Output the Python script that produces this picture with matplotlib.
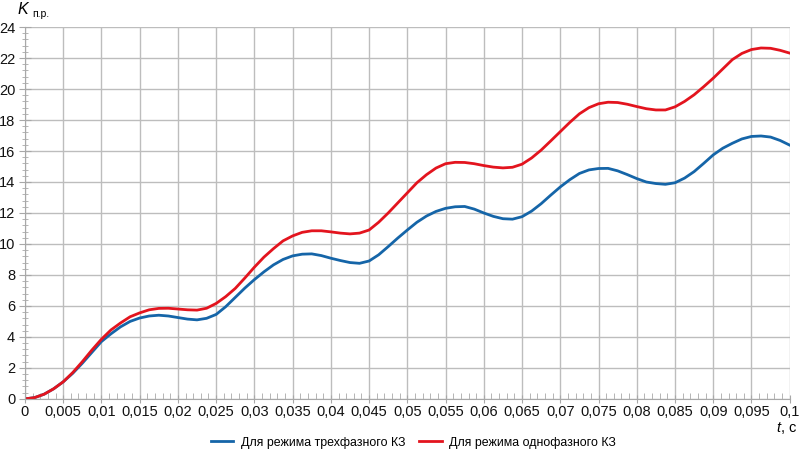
import numpy as np
import matplotlib.pyplot as plt
from matplotlib.ticker import MultipleLocator, FuncFormatter

plt.rcParams['font.family'] = ['Liberation Sans', 'DejaVu Sans']
plt.rcParams['mathtext.fontset'] = 'custom'
plt.rcParams['mathtext.it'] = 'Liberation Sans:italic'
plt.rcParams['mathtext.rm'] = 'Liberation Sans'

# time, s (sampled every 0.00125 s)
t = np.linspace(0, 0.1, 81)

# three-phase fault
k_three = [0, 0.08, 0.3, 0.65, 1.1, 1.65, 2.3, 3.0, 3.7, 4.2,
           4.65, 5.0, 5.22, 5.35, 5.4, 5.35, 5.25, 5.15, 5.1, 5.2,
           5.45, 5.95, 6.55, 7.15, 7.7, 8.2, 8.65, 9.0, 9.23, 9.34,
           9.36, 9.25, 9.08, 8.93, 8.8, 8.75, 8.9, 9.3, 9.83, 10.38,
           10.9, 11.4, 11.8, 12.1, 12.3, 12.4, 12.42, 12.25, 12.0, 11.78,
           11.63, 11.6, 11.76, 12.12, 12.6, 13.15, 13.68, 14.15, 14.55, 14.78,
           14.87, 14.88, 14.72, 14.48, 14.22, 14.0, 13.9, 13.85, 13.95, 14.25,
           14.67, 15.2, 15.75, 16.18, 16.5, 16.78, 16.94, 16.97, 16.9, 16.68,
           16.38]

# single-phase fault
k_single = [0, 0.08, 0.3, 0.65, 1.1, 1.7, 2.4, 3.15, 3.85, 4.45,
            4.9, 5.3, 5.55, 5.75, 5.84, 5.85, 5.8, 5.75, 5.73, 5.85,
            6.16, 6.6, 7.13, 7.8, 8.5, 9.15, 9.7, 10.2, 10.52, 10.75,
            10.85, 10.85, 10.78, 10.7, 10.65, 10.7, 10.9, 11.4, 12.0, 12.65,
            13.3, 13.95, 14.47, 14.9, 15.18, 15.27, 15.26, 15.18, 15.06, 14.96,
            14.91, 14.95, 15.15, 15.55, 16.06, 16.65, 17.25, 17.85, 18.4, 18.8,
            19.05, 19.15, 19.13, 19.02, 18.87, 18.73, 18.65, 18.65, 18.85, 19.2,
            19.63, 20.15, 20.7, 21.3, 21.9, 22.3, 22.55, 22.65, 22.63, 22.5,
            22.32]

labels = ['Для режима трехфазного КЗ', 'Для режима однофазного КЗ']

fig = plt.figure(figsize=(8.05, 4.59), dpi=100)
ax = fig.add_axes([0.031, 0.131, 0.95, 0.810])

ax.plot(t, k_three, color='#1565a8', lw=2.0, label=labels[0], solid_joinstyle='round')
ax.plot(t, k_single, color='#e3141e', lw=2.0, label=labels[1], solid_joinstyle='round')

ax.set_xlim(0, 0.1)
ax.set_ylim(0, 24)
ax.xaxis.set_major_locator(MultipleLocator(0.005))
ax.xaxis.set_minor_locator(MultipleLocator(0.001))
ax.yaxis.set_major_locator(MultipleLocator(2))
ax.yaxis.set_minor_locator(MultipleLocator(0.4))


def comma_fmt(v, pos):
    s = '{:.3f}'.format(v).rstrip('0').rstrip('.')
    return s.replace('.', ',')


ax.xaxis.set_major_formatter(FuncFormatter(comma_fmt))
ax.yaxis.set_major_formatter(FuncFormatter(comma_fmt))

ax.grid(True, which='major', color='#bdbdbd', lw=1.0)
ax.set_axisbelow(True)
for side in ['top', 'right']:
    ax.spines[side].set_visible(False)
for side in ['left', 'bottom']:
    ax.spines[side].set_color('#a8a8a8')
ax.tick_params(axis='both', which='major', color='#a8a8a8',
               labelsize=10.5, labelcolor='#111111', pad=3)
ax.tick_params(axis='x', which='minor', direction='in', length=4, color='#a8a8a8')
ax.tick_params(axis='y', which='minor', direction='inout', length=5, color='#a8a8a8')
ax.tick_params(axis='x', which='major', direction='inout', length=6, pad=1.5)
ax.tick_params(axis='y', which='major', direction='inout', length=8)

# axis titles
fig.text(0.021, 0.963, r'$K$', fontsize=11.5, ha='left', va='bottom')
fig.text(0.040, 0.958, 'п.р.', fontsize=7.5, ha='left', va='bottom')
fig.text(0.990, 0.084, r'$t$, с', fontsize=10.5, ha='right', va='top')

ax.legend(loc='upper center', bbox_to_anchor=(0.508, -0.072), ncol=2, frameon=False,
          fontsize=8.9, handlelength=1.8, columnspacing=1.15, handletextpad=0.6)

fig.savefig('out.png', dpi=100)
